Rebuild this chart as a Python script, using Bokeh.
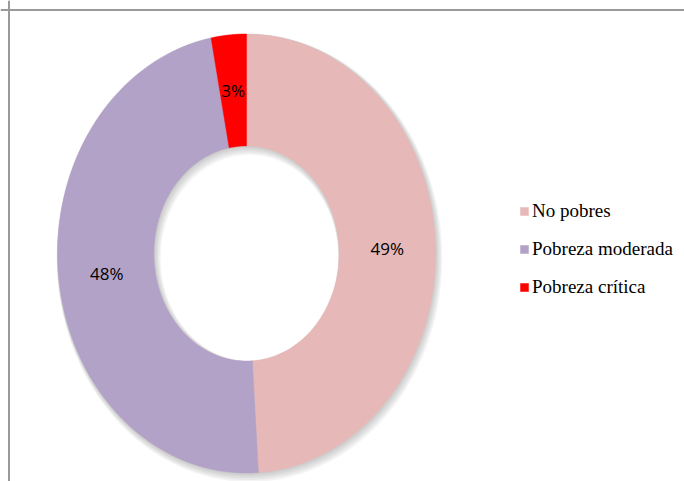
import numpy as np
from bokeh.plotting import figure
from bokeh.models import Range1d, Span, Legend, LegendItem, ColumnDataSource
from bokeh.core.properties import value
from bokeh.embed import file_html
from bokeh.resources import INLINE

# ---- data ----
categories = ["No pobres", "Pobreza moderada", "Pobreza crítica"]
percents = [49, 48, 3]
labels = ["49%", "48%", "3%"]
colors = ["#E6B8B7", "#B3A2C7", "#FF0000"]

# ---- layout ----
W, H = 684, 481
CX, CY = 246.0, 253.0
RX, RY = 189.0, 219.5
INNER = 0.49

p = figure(width=W, height=H, output_backend="svg", toolbar_location=None,
           x_range=Range1d(0, W), y_range=Range1d(H, 0), min_border=0)
p.axis.visible = False
p.grid.visible = False
p.outline_line_color = None
p.background_fill_color = "white"
p.border_fill_color = "white"

# frame borders (left and top only visible)
p.add_layout(Span(location=8.5, dimension="height", line_color="#9A9A9A", line_width=2))
p.add_layout(Span(location=9.5, dimension="width", line_color="#9A9A9A", line_width=2))


def ell(f, r, dx=0.0, dy=0.0):
    a = 2 * np.pi * np.asarray(f)
    return CX + dx + r * RX * np.sin(a), CY + dy - r * RY * np.cos(a)

# soft shadow
for k in range(1, 6):
    t = np.linspace(0, 1, 241)
    ox, oy = ell(t, 1.0 + 0.004 * k, dx=0.6 * k, dy=0.9 * k)
    ix, iy = ell(t[::-1], INNER - 0.004 * k, dx=0.6 * k, dy=0.9 * k)
    p.multi_polygons(xs=[[[list(ox), list(ix)]]], ys=[[[list(oy), list(iy)]]],
                     fill_color="#606060", fill_alpha=0.07, line_color=None)

total = float(sum(percents))
fr = np.cumsum([0] + percents) / total
renderers = []
lx, ly = [], []
for i, cat in enumerate(categories):
    t = np.linspace(fr[i], fr[i + 1], max(8, int(200 * (fr[i + 1] - fr[i]))))
    ox, oy = ell(t, 1.0)
    ix, iy = ell(t[::-1], INNER)
    xs = list(ox) + list(ix)
    ys = list(oy) + list(iy)
    r = p.patch(xs, ys, fill_color=colors[i], line_color=colors[i], line_width=0.5)
    renderers.append(r)
    mx, my = ell((fr[i] + fr[i + 1]) / 2, (1 + INNER) / 2)
    lx.append(float(mx))
    ly.append(float(my))

src = ColumnDataSource(dict(x=lx, y=ly, t=labels))
p.text(x="x", y="y", text="t", source=src, text_align="center", text_baseline="middle",
       text_font=value("Open Sans"), text_font_size="17px", text_color="#000000")

legend = Legend(items=[LegendItem(label=c, renderers=[r]) for c, r in zip(categories, renderers)],
                location=(519, 183), orientation="vertical",
                glyph_width=10, glyph_height=10, label_standoff=3,
                label_text_font="'Liberation Serif', serif", label_text_font_size="19px",
                label_text_color="#000000", spacing=16, padding=0, margin=0,
                border_line_color=None, background_fill_alpha=0)
p.add_layout(legend, "center")

open("out.html", "w").write(file_html(p, INLINE))
